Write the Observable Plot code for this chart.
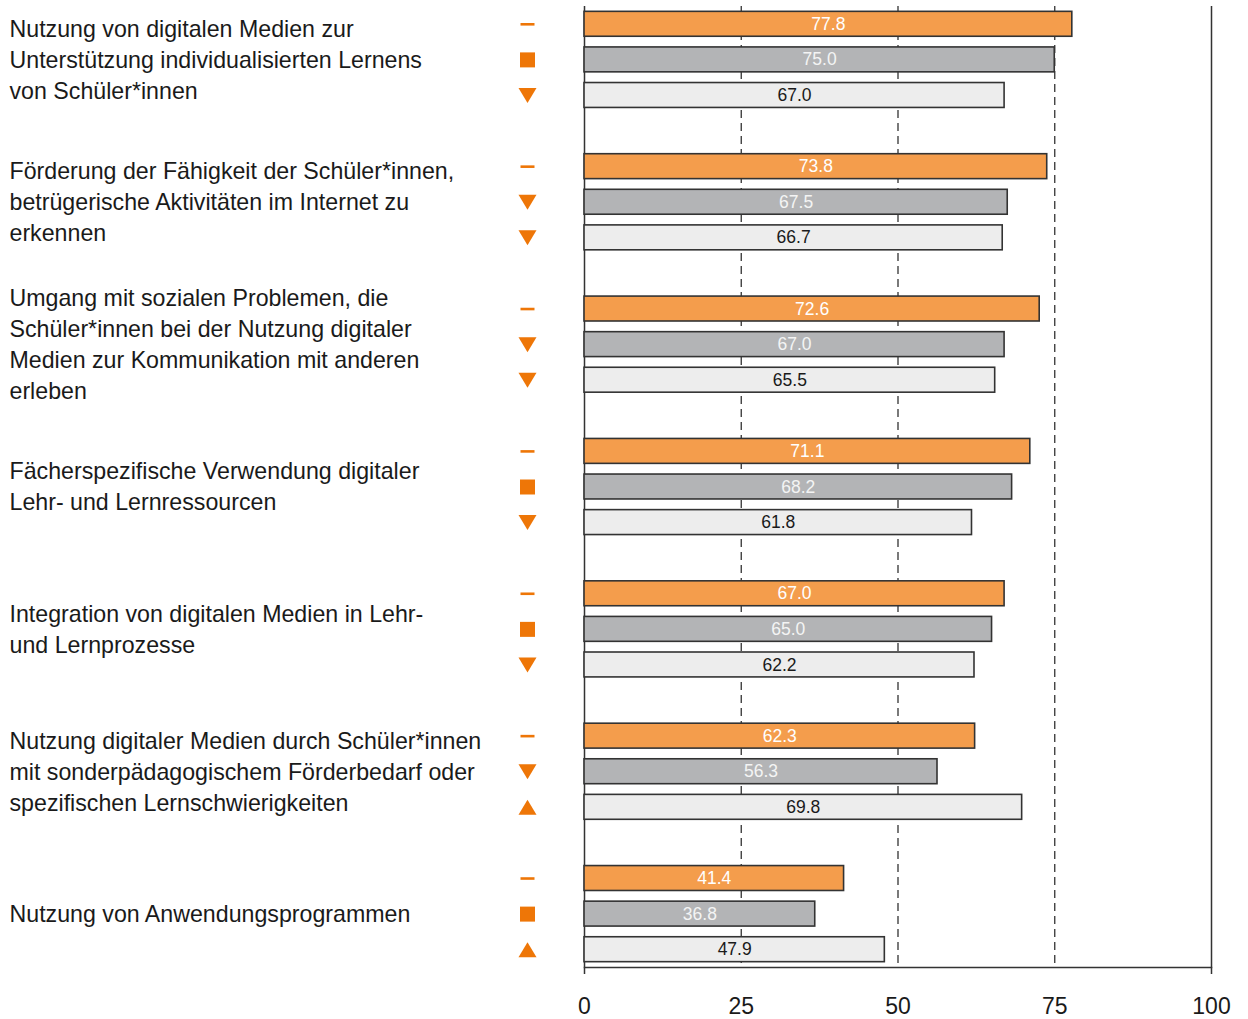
<!DOCTYPE html>
<html>
<head>
<meta charset="utf-8">
<script src="https://cdn.jsdelivr.net/npm/d3@7"></script>
<script src="https://cdn.jsdelivr.net/npm/@observablehq/plot@0.6"></script>
<style>
  html, body { margin: 0; padding: 0; background: #fff; }
  #chart svg { display: block; }
</style>
</head>
<body>
<div id="chart"></div>
<script>
// ---- Data ----
const categories = [
  "Nutzung von digitalen Medien zur\nUnterstützung individualisierten Lernens\nvon Schüler*innen",
  "Förderung der Fähigkeit der Schüler*innen,\nbetrügerische Aktivitäten im Internet zu\nerkennen",
  "Umgang mit sozialen Problemen, die\nSchüler*innen bei der Nutzung digitaler\nMedien zur Kommunikation mit anderen\nerleben",
  "Fächerspezifische Verwendung digitaler\nLehr- und Lernressourcen",
  "Integration von digitalen Medien in Lehr-\nund Lernprozesse",
  "Nutzung digitaler Medien durch Schüler*innen\nmit sonderpädagogischem Förderbedarf oder\nspezifischen Lernschwierigkeiten",
  "Nutzung von Anwendungsprogrammen"
];
const seriesNames = ["Serie 1", "Serie 2", "Serie 3"];
const values1 = [77.8, 73.8, 72.6, 71.1, 67.0, 62.3, 41.4];
const values2 = [75.0, 67.5, 67.0, 68.2, 65.0, 56.3, 36.8];
const values3 = [67.0, 66.7, 65.5, 61.8, 62.2, 69.8, 47.9];
const symbols1 = ["dash", "dash", "dash", "dash", "dash", "dash", "dash"];
const symbols2 = ["square", "down", "down", "square", "square", "down", "square"];
const symbols3 = ["down", "down", "down", "down", "down", "up", "up"];
const xTicks = [0, 25, 50, 75, 100];

// ---- Build table ----
const allValues = [values1, values2, values3];
const allSymbols = [symbols1, symbols2, symbols3];
const rows = [];
const yDomain = [];
categories.forEach((c, g) => {
  seriesNames.forEach((s, i) => {
    const key = g + "|" + i;
    yDomain.push(key);
    rows.push({key, group: g, category: c, series: s, value: allValues[i][g], sym: allSymbols[i][g]});
  });
  if (g < categories.length - 1) yDomain.push(g + "|gap");
});
const labelRows = categories.map((c, g) => ({key: g + "|1", category: c}));

// ---- Styles ----
const barFills = ["#F49D4C", "#B3B4B6", "#EDEDED"];
const valueColors = ["#ffffff", "#f4f4f4", "#1a1a1a"];
const symColor = "#EE7607";
const dark = "#333333";

const symDefs = {
  dash:   {draw(ctx) { ctx.rect(-7, -1.3, 14, 2.6); }},
  square: {draw(ctx) { ctx.rect(-7.5, -7.5, 15, 15); }},
  down:   {draw(ctx) { ctx.moveTo(-9, -7.5); ctx.lineTo(9, -7.5); ctx.lineTo(0, 7.5); ctx.closePath(); }},
  up:     {draw(ctx) { ctx.moveTo(-9, 7.5); ctx.lineTo(9, 7.5); ctx.lineTo(0, -7.5); ctx.closePath(); }}
};

const marks = [
  Plot.ruleX([25, 50, 75], {stroke: dark, strokeWidth: 1.3, strokeDasharray: "8,5"}),
  Plot.ruleX([0, 100], {stroke: dark, strokeWidth: 1.5}),
  Plot.frame({anchor: "bottom", stroke: dark, strokeWidth: 1.5}),
  Plot.axisX({ticks: [0, 100], tickSize: 7, tickFormat: () => "", stroke: dark, strokeWidth: 1.5, label: null}),
  Plot.axisX({ticks: xTicks, tickSize: 0, tickPadding: 30, fontSize: 23, fill: "#1a1a1a", label: null}),
  Plot.barX(rows, {x: "value", y: "key", fill: "series", stroke: dark, strokeWidth: 1.6}),
];
seriesNames.forEach((s, i) => {
  marks.push(Plot.text(rows.filter(d => d.series === s), {
    x: d => d.value / 2, y: "key", text: d => d.value.toFixed(1),
    fill: valueColors[i], fontSize: 17.5
  }));
});
Object.keys(symDefs).forEach(k => {
  marks.push(Plot.dot(rows.filter(d => d.sym === k), {
    y: "key", frameAnchor: "left", dx: -57, symbol: symDefs[k], r: 5, fill: symColor, stroke: "none"
  }));
});
marks.push(Plot.text(labelRows, {
  y: "key", text: "category", frameAnchor: "left", dx: -575, dy: -2, textAnchor: "start",
  lineAnchor: "middle", lineHeight: 1.34, fontSize: 23.2, fill: "#1a1a1a"
}));

const chart = Plot.plot({
  width: 1248,
  height: 1019,
  marginLeft: 584,
  marginRight: 37,
  marginTop: 6,
  marginBottom: 52,
  style: {fontFamily: "'Liberation Sans', Arial, Helvetica, sans-serif", background: "#fff", overflow: "visible"},
  x: {domain: [0, 100], axis: null},
  y: {domain: yDomain, paddingInner: 0.3, paddingOuter: 0.15, round: false, axis: null},
  color: {domain: seriesNames, range: barFills},
  marks
});
document.getElementById("chart").appendChild(chart);
</script>
</body>
</html>
